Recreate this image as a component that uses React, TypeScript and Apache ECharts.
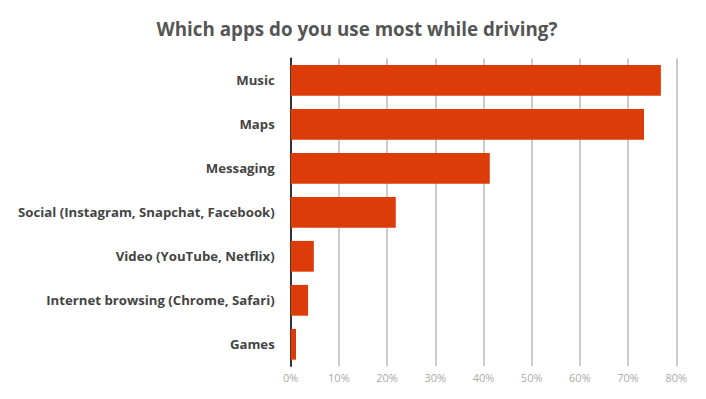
import React, { useEffect, useRef } from "react";
import * as echarts from "echarts";

const categories = [
  "Music",
  "Maps",
  "Messaging",
  "Social (Instagram, Snapchat, Facebook)",
  "Video (YouTube, Netflix)",
  "Internet browsing (Chrome, Safari)",
  "Games",
];
const values = [76.8, 73.3, 41.3, 21.8, 4.8, 3.6, 1.1];
const titleText = "Which apps do you use most while driving?";

export default function App() {
  const ref = useRef<HTMLDivElement>(null);
  useEffect(() => {
    if (!ref.current) return;
    const chart = echarts.init(ref.current, null, { renderer: "svg" });
    chart.setOption({
      animation: false,
      backgroundColor: "#ffffff",
      title: {
        text: titleText,
        left: 352,
        textAlign: "center",
        top: 14,
        textStyle: {
          fontFamily: "Open Sans",
          fontWeight: "bold",
          fontSize: 18.8,
          color: "#555555",
        },
      },
      grid: { left: 290.7, right: 29.7, top: 58.3, bottom: 32.7 },
      xAxis: {
        type: "value",
        min: 0,
        max: 80,
        interval: 10,
        axisLine: { show: false },
        axisTick: { show: false },
        splitLine: { show: true, lineStyle: { color: "#bbbbbb", width: 1.5 } },
        axisLabel: {
          formatter: "{value}%",
          color: "#aaaaaa",
          fontFamily: "Open Sans",
          fontSize: 11,
          margin: 6,
        },
      },
      yAxis: {
        type: "category",
        inverse: true,
        data: categories,
        axisLine: { show: true, lineStyle: { color: "#000000", width: 1.5 } },
        axisTick: { show: false },
        axisLabel: {
          color: "#444444",
          fontFamily: "Open Sans",
          fontWeight: "bold",
          fontSize: 13.2,
          margin: 16,
        },
      },
      series: [
        {
          type: "bar",
          data: values,
          barCategoryGap: "30%",
          itemStyle: { color: "#DD3B07" },
        },
      ],
    });
    return () => chart.dispose();
  }, []);
  return <div ref={ref} style={{ width: 706, height: 399, position: "absolute", left: 0, top: 0 }} />;
}
